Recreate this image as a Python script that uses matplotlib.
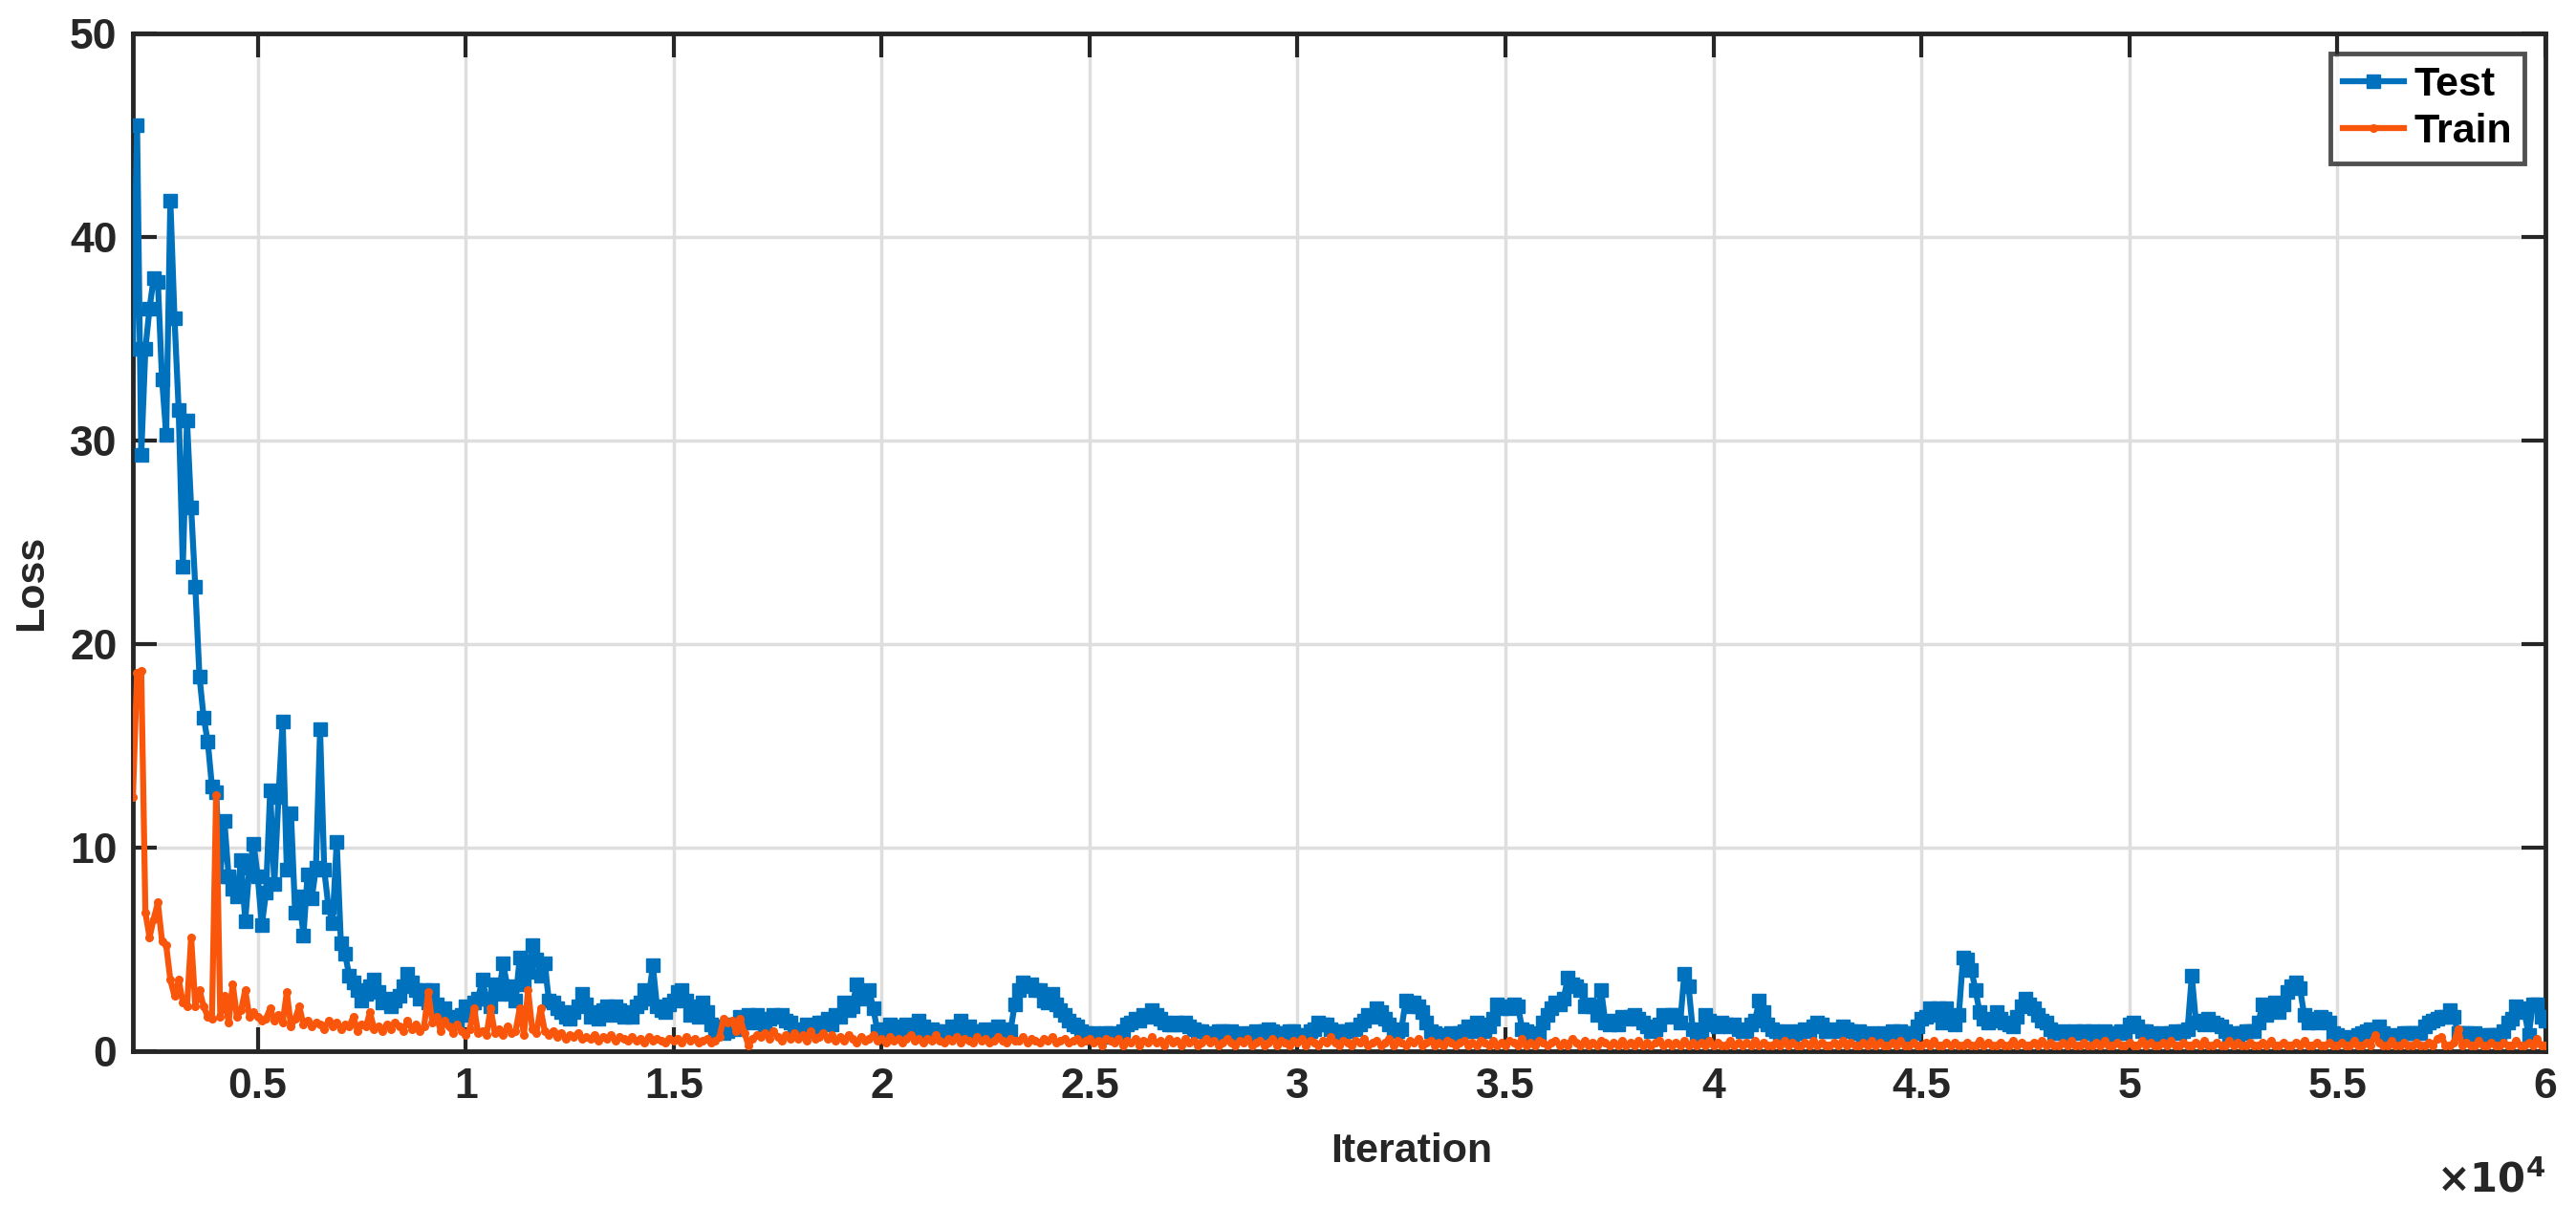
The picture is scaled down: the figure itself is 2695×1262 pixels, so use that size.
import numpy as np
import matplotlib.pyplot as plt

# iterations: one reading every 100 iterations, 2000 .. 60000
it_start = 2000
it_step = 100

# test loss, one row = 1000 iterations
test_loss = [
    34.5, 45.5, 29.3, 34.5, 36.5, 38.0, 37.8, 33.0, 30.3, 41.8,  # 2000
    36.0, 31.5, 23.8, 31.0, 26.7, 22.8, 18.4, 16.4, 15.2, 13.0,  # 3000
    12.7, 8.6, 11.3, 8.6, 8.0, 7.6, 9.4, 6.4, 9.0, 10.2,  # 4000
    8.6, 6.2, 7.8, 12.8, 8.2, 12.5, 16.2, 8.9, 11.7, 6.8,  # 5000
    7.6, 5.7, 8.7, 7.5, 9.0, 15.8, 8.9, 7.1, 6.3, 10.3,  # 6000
    5.3, 4.8, 3.7, 3.4, 3.0, 2.5, 2.8, 3.2, 3.5, 2.9,  # 7000
    2.4, 2.6, 2.2, 2.5, 2.7, 3.2, 3.8, 3.4, 3.0, 2.6,  # 8000
    3.0, 2.4, 3.0, 2.3, 1.9, 2.1, 1.7, 1.5, 1.4, 1.8,  # 9000
    2.2, 2.0, 2.4, 2.6, 3.5, 2.6, 2.2, 3.3, 2.8, 4.3,  # 10000
    3.2, 2.8, 2.5, 4.6, 3.3, 3.9, 5.2, 4.5, 3.7, 4.3,  # 11000
    2.5, 2.4, 2.1, 1.9, 1.7, 1.6, 1.9, 2.2, 2.8, 2.3,  # 12000
    1.7, 1.9, 1.6, 2.0, 2.2, 1.8, 2.2, 2.0, 1.7, 1.9,  # 13000
    1.7, 2.2, 2.4, 3.0, 2.6, 4.2, 2.2, 2.0, 1.9, 2.3,  # 14000
    2.5, 2.9, 3.0, 2.5, 1.8, 2.2, 1.7, 2.4, 1.9, 1.3,  # 15000
    1.0, 1.2, 0.9, 1.0, 1.3, 1.1, 1.7, 1.5, 1.8, 1.4,  # 16000
    1.8, 1.5, 1.3, 1.6, 1.8, 1.7, 1.8, 1.5, 1.4, 1.1,  # 17000
    1.0, 0.9, 1.3, 1.0, 1.2, 1.4, 1.4, 1.6, 1.3, 1.8,  # 18000
    1.7, 2.4, 2.0, 2.2, 3.3, 2.6, 2.9, 3.0, 2.1, 1.0,  # 19000
    1.1, 1.0, 1.3, 1.2, 1.0, 1.1, 1.3, 1.0, 1.1, 1.5,  # 20000
    1.2, 1.0, 1.1, 1.0, 0.8, 1.0, 0.9, 1.2, 1.1, 1.5,  # 21000
    1.0, 1.2, 1.0, 1.0, 0.9, 1.1, 0.9, 1.0, 1.2, 1.1,  # 22000
    1.0, 1.0, 2.3, 3.0, 3.4, 3.2, 3.3, 3.0, 3.0, 2.5,  # 23000
    2.4, 2.8, 2.3, 2.0, 1.8, 1.5, 1.3, 1.2, 1.0, 0.9,  # 24000
    0.8, 0.9, 0.8, 0.7, 0.9, 0.9, 0.8, 0.8, 1.0, 1.3,  # 25000
    1.4, 1.6, 1.5, 1.8, 1.7, 2.0, 1.8, 1.6, 1.4, 1.3,  # 26000
    1.3, 1.4, 1.3, 1.4, 1.2, 1.1, 1.0, 1.0, 0.8, 0.9,  # 27000
    0.8, 1.0, 1.0, 0.9, 1.0, 0.8, 0.9, 0.8, 0.7, 0.9,  # 28000
    1.0, 0.9, 1.0, 1.1, 1.0, 0.8, 0.9, 0.9, 1.0, 1.0,  # 29000
    0.7, 0.8, 0.8, 1.0, 1.1, 1.4, 1.3, 1.3, 1.1, 1.0,  # 30000
    1.0, 0.9, 1.0, 1.1, 1.1, 1.3, 1.5, 1.8, 1.7, 2.1,  # 31000
    1.9, 1.6, 1.3, 1.0, 1.0, 1.1, 2.5, 2.2, 2.4, 2.2,  # 32000
    1.9, 1.4, 1.0, 0.9, 0.8, 0.7, 0.8, 0.9, 0.8, 0.9,  # 33000
    1.0, 1.2, 1.0, 1.4, 1.3, 1.0, 1.2, 1.6, 2.3, 2.1,  # 34000
    2.2, 2.1, 2.3, 2.2, 1.1, 1.0, 0.8, 0.9, 0.8, 1.4,  # 35000
    1.8, 2.1, 2.4, 2.3, 2.6, 3.6, 3.3, 3.2, 3.0, 2.2,  # 36000
    2.3, 2.2, 1.8, 3.0, 1.4, 1.3, 1.5, 1.3, 1.7, 1.6,  # 37000
    1.7, 1.8, 1.6, 1.4, 1.2, 1.0, 1.1, 1.3, 1.8, 1.7,  # 38000
    1.8, 1.8, 1.4, 3.8, 3.2, 1.1, 0.7, 0.9, 1.8, 1.5,  # 39000
    1.3, 1.2, 1.4, 1.3, 1.2, 1.3, 1.1, 1.0, 1.0, 1.3,  # 40000
    1.5, 2.5, 1.9, 1.3, 1.1, 1.0, 0.9, 0.9, 1.0, 0.8,  # 41000
    0.9, 1.0, 1.1, 1.0, 1.2, 1.4, 1.3, 1.0, 1.0, 1.1,  # 42000
    1.0, 1.2, 1.1, 1.0, 0.9, 1.0, 0.8, 0.8, 0.9, 0.8,  # 43000
    0.8, 0.9, 0.8, 1.0, 0.9, 1.0, 0.8, 0.9, 0.9, 1.2,  # 44000
    1.6, 1.7, 2.1, 1.8, 2.1, 1.4, 2.1, 1.6, 1.3, 1.8,  # 45000
    4.6, 4.5, 4.0, 3.0, 1.9, 1.6, 1.4, 1.5, 1.9, 1.6,  # 46000
    1.4, 1.3, 1.2, 1.7, 2.2, 2.6, 2.3, 2.1, 1.8, 1.5,  # 47000
    1.4, 1.1, 0.9, 0.9, 1.0, 0.8, 0.9, 1.0, 0.9, 1.0,  # 48000
    0.9, 1.0, 0.8, 0.9, 1.0, 0.9, 0.8, 0.9, 1.0, 0.9,  # 49000
    1.3, 1.4, 1.2, 1.0, 1.0, 0.9, 0.8, 0.8, 0.9, 0.8,  # 50000
    0.9, 1.0, 0.9, 1.0, 1.1, 3.7, 1.4, 1.5, 1.3, 1.6,  # 51000
    1.4, 1.3, 1.2, 1.0, 0.8, 0.9, 0.8, 0.9, 1.0, 1.0,  # 52000
    1.0, 1.4, 2.3, 1.8, 2.1, 2.4, 1.9, 2.3, 2.9, 3.2,  # 53000
    3.4, 3.1, 1.8, 1.4, 1.6, 1.4, 1.7, 1.6, 1.4, 0.9,  # 54000
    0.8, 0.6, 0.7, 0.6, 0.6, 0.8, 0.9, 1.0, 1.1, 1.0,  # 55000
    1.2, 0.9, 0.8, 0.7, 0.7, 0.8, 0.9, 0.9, 0.9, 0.9,  # 56000
    0.9, 1.2, 1.4, 1.5, 1.6, 1.7, 1.7, 2.0, 1.7, 0.9,  # 57000
    0.9, 0.9, 0.8, 0.9, 0.7, 0.7, 0.8, 0.8, 0.8, 0.8,  # 58000
    1.0, 1.4, 1.6, 2.2, 2.1, 1.9, 0.8, 2.3, 2.3, 1.7,  # 59000
    1.5,  # 60000
]

# train loss, same iterations
train_loss = [
    12.5, 18.6, 18.7, 6.8, 5.6, 6.5, 7.3, 5.4, 5.2, 3.5,  # 2000
    2.7, 3.5, 2.4, 2.2, 5.6, 2.2, 3.0, 2.2, 1.7, 1.6,  # 3000
    12.6, 1.7, 2.7, 1.4, 3.3, 1.7, 2.0, 3.0, 1.7, 1.9,  # 4000
    1.7, 1.5, 1.6, 2.1, 1.5, 1.8, 1.4, 2.9, 1.2, 1.6,  # 5000
    2.2, 1.3, 1.5, 1.2, 1.4, 1.3, 1.1, 1.5, 1.2, 1.4,  # 6000
    1.1, 1.3, 1.2, 1.7, 1.0, 1.3, 1.2, 1.9, 1.1, 1.2,  # 7000
    1.0, 1.3, 1.1, 1.4, 1.2, 1.0, 1.5, 1.1, 1.3, 1.0,  # 8000
    1.2, 2.9, 1.4, 1.7, 1.0, 1.5, 1.2, 0.9, 1.3, 1.0,  # 9000
    0.8, 1.1, 2.1, 0.9, 1.0, 0.8, 2.1, 0.9, 1.1, 0.8,  # 10000
    1.2, 0.9, 1.0, 2.1, 0.8, 3.0, 1.1, 0.9, 2.1, 1.0,  # 11000
    0.8, 1.0, 0.7, 0.9, 0.6, 0.8, 0.7, 0.9, 0.6, 0.7,  # 12000
    0.6, 0.8, 0.5, 0.7, 0.6, 0.8, 0.5, 0.7, 0.6, 0.5,  # 13000
    0.7, 0.5, 0.6, 0.4, 0.7, 0.5, 0.6, 0.5, 0.4, 0.6,  # 14000
    0.5, 0.6, 0.4, 0.7, 0.5, 0.6, 0.4, 0.5, 0.6, 0.4,  # 15000
    0.5, 0.7, 1.6, 1.4, 1.5, 1.0, 1.6, 0.9, 0.3, 0.6,  # 16000
    0.8, 0.7, 0.9, 0.6, 1.0, 0.7, 0.5, 0.8, 0.6, 0.9,  # 17000
    0.6, 0.8, 0.5, 1.0, 0.6, 0.7, 0.9, 0.6, 0.8, 0.5,  # 18000
    0.7, 0.5, 0.8, 0.6, 0.4, 0.7, 0.5, 0.6, 0.8, 0.5,  # 19000
    0.6, 0.4, 0.7, 0.5, 0.6, 0.4, 0.6, 0.8, 0.5, 0.6,  # 20000
    0.4, 0.6, 0.5, 0.8, 0.5, 0.4, 0.6, 0.5, 0.7, 0.4,  # 21000
    0.6, 0.5, 0.4, 0.7, 0.5, 0.6, 0.4, 0.5, 0.7, 0.5,  # 22000
    0.4, 0.6, 0.5, 0.5, 0.7, 0.4, 0.6, 0.5, 0.4, 0.6,  # 23000
    0.5, 0.7, 0.4, 0.5, 0.6, 0.4, 0.5, 0.6, 0.4, 0.5,  # 24000
    0.6, 0.4, 0.5, 0.3, 0.6, 0.5, 0.4, 0.6, 0.3, 0.5,  # 25000
    0.4, 0.6, 0.3, 0.5, 0.4, 0.7, 0.4, 0.5, 0.3, 0.6,  # 26000
    0.4, 0.5, 0.3, 0.6, 0.4, 0.5, 0.3, 0.4, 0.6, 0.4,  # 27000
    0.5, 0.3, 0.4, 0.6, 0.4, 0.3, 0.5, 0.4, 0.6, 0.3,  # 28000
    0.4, 0.5, 0.3, 0.4, 0.6, 0.3, 0.5, 0.4, 0.3, 0.5,  # 29000
    0.4, 0.6, 0.3, 0.5, 0.4, 0.3, 0.5, 0.4, 0.7, 0.4,  # 30000
    0.3, 0.5, 0.4, 0.3, 0.5, 0.4, 0.6, 0.3, 0.4, 0.5,  # 31000
    0.3, 0.4, 0.6, 0.3, 0.5, 0.4, 0.3, 0.5, 0.4, 0.6,  # 32000
    0.3, 0.4, 0.5, 0.3, 0.4, 0.3, 0.5, 0.4, 0.3, 0.4,  # 33000
    0.5, 0.3, 0.4, 0.3, 0.5, 0.4, 0.3, 0.5, 0.3, 0.4,  # 34000
    0.3, 0.5, 0.4, 0.3, 0.6, 0.3, 0.4, 0.3, 0.5, 0.4,  # 35000
    0.3, 0.4, 0.5, 0.3, 0.4, 0.3, 0.6, 0.4, 0.3, 0.5,  # 36000
    0.3, 0.4, 0.3, 0.5, 0.4, 0.3, 0.4, 0.3, 0.5, 0.3,  # 37000
    0.4, 0.3, 0.5, 0.3, 0.4, 0.3, 0.4, 0.5, 0.3, 0.4,  # 38000
    0.3, 0.4, 0.3, 0.5, 0.3, 0.4, 0.3, 0.4, 0.3, 0.5,  # 39000
    0.3, 0.4, 0.3, 0.3, 0.5, 0.3, 0.4, 0.3, 0.4, 0.3,  # 40000
    0.5, 0.3, 0.4, 0.3, 0.3, 0.4, 0.3, 0.5, 0.3, 0.4,  # 41000
    0.3, 0.3, 0.4, 0.3, 0.5, 0.3, 0.4, 0.3, 0.3, 0.4,  # 42000
    0.3, 0.5, 0.3, 0.4, 0.3, 0.3, 0.4, 0.3, 0.5, 0.3,  # 43000
    0.4, 0.3, 0.3, 0.4, 0.3, 0.5, 0.3, 0.3, 0.4, 0.3,  # 44000
    0.3, 0.4, 0.3, 0.5, 0.3, 0.3, 0.4, 0.3, 0.4, 0.3,  # 45000
    0.3, 0.4, 0.3, 0.3, 0.5, 0.3, 0.4, 0.3, 0.3, 0.4,  # 46000
    0.3, 0.3, 0.5, 0.3, 0.4, 0.3, 0.3, 0.4, 0.3, 0.5,  # 47000
    0.3, 0.4, 0.3, 0.3, 0.4, 0.3, 0.5, 0.3, 0.3, 0.4,  # 48000
    0.3, 0.3, 0.4, 0.3, 0.5, 0.3, 0.3, 0.4, 0.3, 0.3,  # 49000
    0.4, 0.3, 0.3, 0.5, 0.3, 0.4, 0.3, 0.3, 0.4, 0.3,  # 50000
    0.5, 0.3, 0.3, 0.4, 0.3, 0.3, 0.4, 0.3, 0.5, 0.3,  # 51000
    0.3, 0.4, 0.3, 0.3, 0.5, 0.3, 0.4, 0.3, 0.3, 0.4,  # 52000
    0.3, 0.3, 0.4, 0.3, 0.5, 0.3, 0.3, 0.4, 0.3, 0.3,  # 53000
    0.4, 0.3, 0.5, 0.3, 0.3, 0.4, 0.3, 0.3, 0.4, 0.3,  # 54000
    0.3, 0.4, 0.3, 0.3, 0.5, 0.3, 0.3, 0.4, 0.3, 0.8,  # 55000
    0.4, 0.3, 0.3, 0.5, 0.3, 0.3, 0.4, 0.3, 0.3, 0.4,  # 56000
    0.3, 0.3, 0.4, 0.3, 0.6, 0.7, 0.3, 0.3, 0.4, 1.1,  # 57000
    0.3, 0.4, 0.3, 0.3, 0.5, 0.3, 0.3, 0.4, 0.3, 0.3,  # 58000
    0.4, 0.3, 0.3, 0.5, 0.3, 0.3, 0.4, 0.3, 0.6, 0.3,  # 59000
    0.3,  # 60000
]

x_ticks = [5000, 10000, 15000, 20000, 25000, 30000, 35000, 40000, 45000, 50000, 55000, 60000]
x_tick_labels = ["0.5", "1", "1.5", "2", "2.5", "3", "3.5", "4", "4.5", "5", "5.5", "6"]
y_ticks = [0, 10, 20, 30, 40, 50]

iters = it_start + it_step * np.arange(len(test_loss))

plt.rcParams["font.family"] = ["Liberation Sans", "DejaVu Sans"]
plt.rcParams["font.weight"] = "bold"

fig = plt.figure(figsize=(26.95, 12.62), dpi=100)
ax = fig.add_axes([0.0516, 0.1284, 0.9365, 0.8439])

blue = "#0072BD"
orange = "#F9560B"

ax.plot(iters, test_loss, "-s", color=blue, lw=4.5, ms=10, mfc=blue, mec=blue,
        label="Test", zorder=3)
ax.plot(iters, train_loss, "-", color=orange, lw=4.5, marker=".", ms=11,
        label="Train", zorder=4)

ax.set_xlim(2000, 60000)
ax.set_ylim(0, 50)
ax.set_xticks(x_ticks)
ax.set_xticklabels(x_tick_labels)
ax.set_yticks(y_ticks)

ax.grid(True, color="#dedede", lw=2.5)
ax.set_axisbelow(True)
for s in ax.spines.values():
    s.set_linewidth(3.5)
    s.set_color("#262626")
ax.tick_params(direction="in", length=18, width=3, top=True, right=True,
               labelsize=32, colors="#262626", pad=12)
for lab in ax.get_xticklabels() + ax.get_yticklabels():
    lab.set_fontweight("bold")

ax.set_xlabel("Iteration", fontsize=31, fontweight="bold", color="#262626")
ax.xaxis.set_label_coords(0.53, -0.08)
ax.set_ylabel("Loss", fontsize=31, fontweight="bold", color="#262626")
ax.yaxis.set_label_coords(-0.034, 0.46)
ax.text(1.0, -0.108, r"$\times\mathbf{10^{4}}$", transform=ax.transAxes,
        fontsize=30, ha="right", va="top", color="#262626")

leg = ax.legend(loc="upper right", fontsize=31, frameon=True, fancybox=False,
                edgecolor="#262626", handlelength=1.5, handletextpad=0.25,
                borderpad=0.3, labelspacing=0.2, borderaxespad=0.5)
leg.get_frame().set_linewidth(3.5)
for t in leg.get_texts():
    t.set_fontweight("bold")

fig.savefig("out.png", dpi=100)
